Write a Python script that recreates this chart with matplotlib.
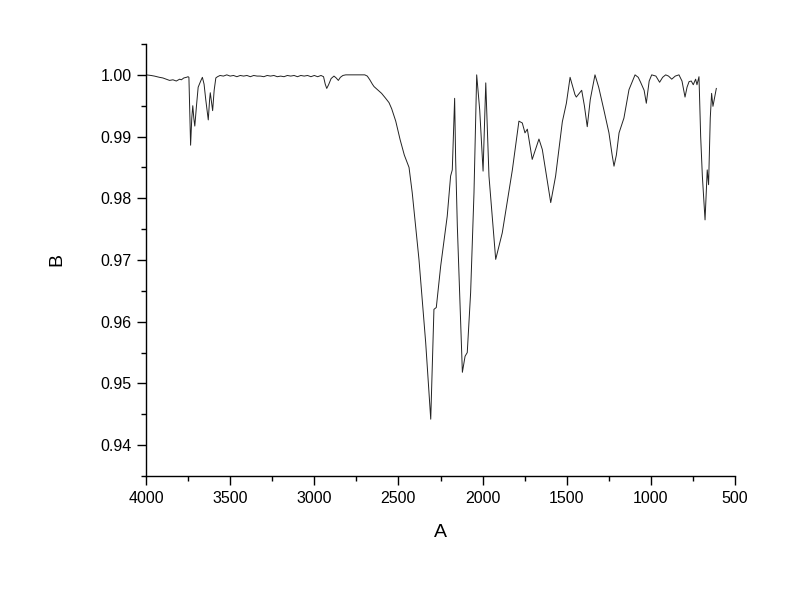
import matplotlib
matplotlib.use("Agg")
import matplotlib.pyplot as plt
from matplotlib.ticker import MultipleLocator

plt.rcParams['font.family'] = ['Liberation Sans', 'DejaVu Sans']

wavenumber = [
    4000, 3970, 3950, 3920, 3900, 3880, 3860, 3840, 3820, 3800, 3790, 3775, 3760, 3750,
    3745, 3740, 3735, 3728, 3722, 3716, 3710, 3700, 3690, 3675, 3665, 3655, 3645, 3630,
    3622, 3618, 3610, 3604, 3595, 3585, 3575, 3560, 3540, 3520, 3500, 3480, 3460, 3440,
    3420, 3400, 3380, 3360, 3340, 3320, 3300, 3280, 3260, 3240, 3220, 3200, 3180, 3160,
    3140, 3120, 3100, 3080, 3060, 3040, 3020, 3000, 2980, 2960, 2945, 2935, 2926, 2915,
    2900, 2883, 2870, 2857, 2845, 2830, 2813, 2780, 2740, 2700, 2685, 2670, 2655, 2645,
    2620, 2600, 2576, 2556, 2540, 2516, 2490, 2465, 2437, 2418, 2378, 2338, 2308, 2289,
    2275, 2249, 2210, 2190, 2180, 2166, 2160, 2150, 2120, 2104, 2091, 2071, 2051, 2035,
    2017, 1997, 1981, 1962, 1922, 1883, 1823, 1784, 1764, 1748, 1734, 1705, 1665, 1645,
    1595, 1566, 1526, 1502, 1480, 1451, 1443, 1411, 1395, 1378, 1360, 1332, 1310, 1279,
    1249, 1230, 1219, 1205, 1189, 1160, 1130, 1094, 1075, 1061, 1040, 1027, 1010, 995,
    970, 948, 930, 912, 895, 876, 855, 833, 815, 797, 785, 773, 760, 748,
    734, 726, 714, 704, 694, 678, 665, 657, 647, 639, 631, 611,
]
absorb = [
    1.0000, 0.9999, 0.9998, 0.9996, 0.9995, 0.9993, 0.9991, 0.9992, 0.9990, 0.9993, 0.9992, 0.9995, 0.9996, 0.9997,
    0.9996, 0.9940, 0.9886, 0.9930, 0.9950, 0.9930, 0.9917, 0.9950, 0.9980, 0.9990, 0.9996, 0.9985, 0.9960, 0.9927,
    0.9960, 0.9971, 0.9955, 0.9942, 0.9975, 0.9995, 0.9997, 0.9999, 0.9998, 1.0000, 0.9998, 0.9999, 0.9997, 0.9999,
    0.9998, 0.9999, 0.9997, 0.9999, 0.9998, 0.9998, 0.9997, 0.9999, 0.9998, 0.9999, 0.9997, 0.9998, 0.9997, 0.9999,
    0.9998, 0.9999, 0.9997, 0.9999, 0.9998, 0.9999, 0.9997, 0.9999, 0.9997, 0.9999, 0.9997, 0.9985, 0.9978, 0.9984,
    0.9994, 0.9998, 0.9995, 0.9991, 0.9996, 0.9999, 1.0000, 1.0000, 1.0000, 1.0000, 0.9998, 0.9992, 0.9985, 0.9981,
    0.9975, 0.9970, 0.9962, 0.9955, 0.9945, 0.9925, 0.9895, 0.9870, 0.9850, 0.9809, 0.9701, 0.9566, 0.9442, 0.9620,
    0.9623, 0.9690, 0.9771, 0.9836, 0.9846, 0.9962, 0.9863, 0.9755, 0.9518, 0.9544, 0.9550, 0.9647, 0.9809, 1.0000,
    0.9943, 0.9844, 0.9987, 0.9836, 0.9701, 0.9744, 0.9846, 0.9925, 0.9922, 0.9906, 0.9912, 0.9863, 0.9896, 0.9879,
    0.9793, 0.9836, 0.9924, 0.9954, 0.9996, 0.9968, 0.9964, 0.9975, 0.9950, 0.9916, 0.9960, 1.0000, 0.9980, 0.9943,
    0.9906, 0.9870, 0.9852, 0.9870, 0.9906, 0.9930, 0.9976, 1.0000, 0.9996, 0.9988, 0.9975, 0.9954, 0.9990, 1.0000,
    0.9998, 0.9988, 0.9996, 1.0000, 0.9998, 0.9993, 0.9998, 1.0000, 0.9990, 0.9964, 0.9980, 0.9989, 0.9990, 0.9984,
    0.9993, 0.9984, 0.9997, 0.9900, 0.9836, 0.9765, 0.9846, 0.9822, 0.9930, 0.9970, 0.9949, 0.9978,
]

x_ticks = [4000, 3500, 3000, 2500, 2000, 1500, 1000, 500]
y_ticks = [0.94, 0.95, 0.96, 0.97, 0.98, 0.99, 1.00]

fig = plt.figure(figsize=(8, 5.89), dpi=100)
ax = fig.add_axes([0.1825, 0.1919, 0.73625, 0.7334])
ax.plot(wavenumber, absorb, color='#222222', lw=0.7)

ax.set_xlim(4000, 500)
ax.set_ylim(0.935, 1.005)
ax.set_xticks(x_ticks)
ax.set_yticks(y_ticks)
ax.set_yticklabels([f"{v:.2f}" for v in y_ticks])
ax.xaxis.set_minor_locator(MultipleLocator(250))
ax.yaxis.set_minor_locator(MultipleLocator(0.005))

for s in ['top', 'right']:
    ax.spines[s].set_visible(False)
for s in ['left', 'bottom']:
    ax.spines[s].set_linewidth(1.0)

ax.tick_params(which='major', direction='out', length=6.5, width=1.0, labelsize=11.5, pad=4)
ax.tick_params(which='minor', direction='out', length=3.5, width=1.0)

ax.set_xlabel('A', fontsize=14, labelpad=13)
ax.set_ylabel('B', fontsize=14, labelpad=25)

fig.savefig('out.png', dpi=100)
